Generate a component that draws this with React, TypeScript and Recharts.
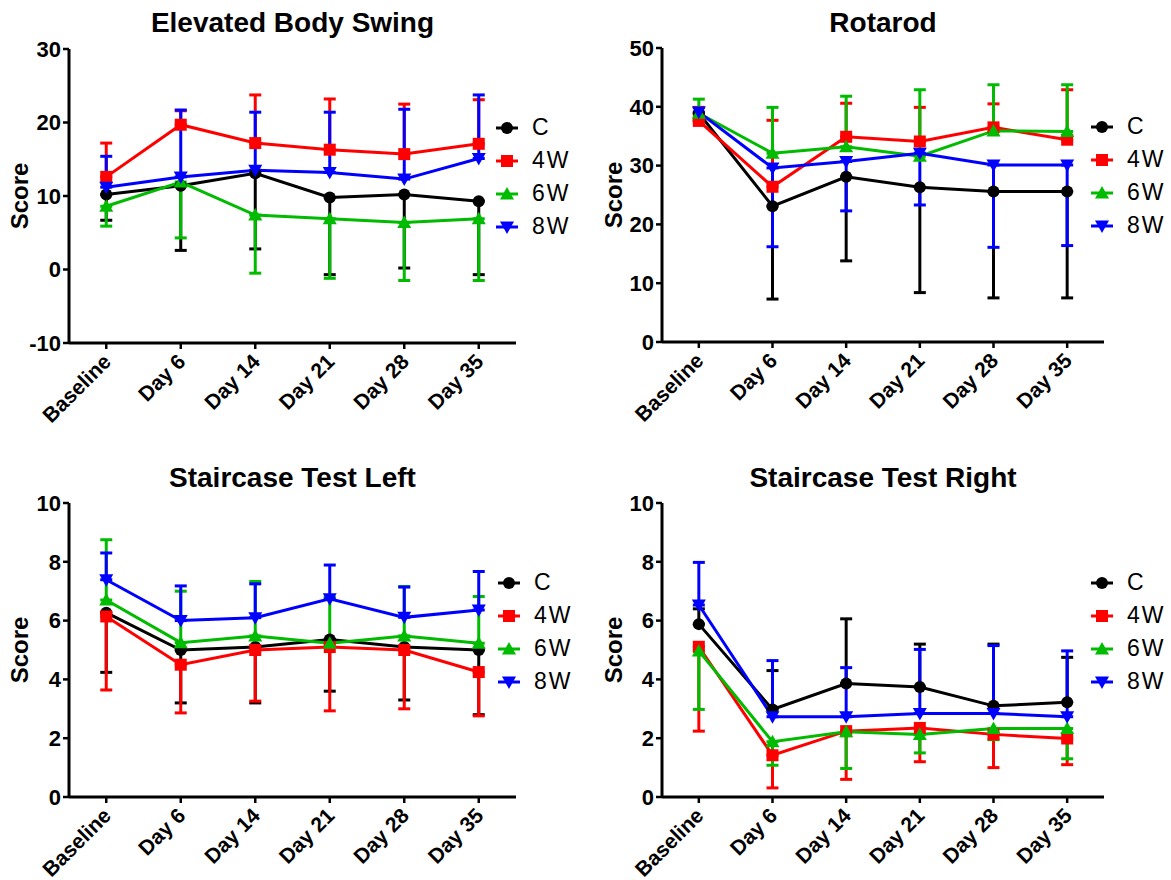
import React from 'react';
import { LineChart, Line, XAxis, YAxis, ErrorBar, Legend } from 'recharts';

const days = ['Baseline', 'Day 6', 'Day 14', 'Day 21', 'Day 28', 'Day 35'];
const groups = ['C', '4W', '6W', '8W'];
const colors = ['#000000', '#ff0000', '#00bb00', '#0000ff'];

// Elevated Body Swing (means + the visible end of each error bar)
const ebsC = [10.2, 11.4, 13.1, 9.8, 10.2, 9.3];
const ebsCLow = [6.7, 2.6, 2.8, -0.7, 0.2, -0.7];
const ebs4W = [12.6, 19.7, 17.2, 16.3, 15.7, 17.1];
const ebs4WHigh = [17.2, 21.6, 23.75, 23.2, 22.5, 23.1];
const ebs6W = [8.6, 11.9, 7.4, 6.9, 6.4, 6.9];
const ebs6WLow = [5.9, 4.3, -0.5, -1.2, -1.5, -1.5];
const ebs8W = [11.2, 12.6, 13.5, 13.2, 12.3, 15.1];
const ebs8WHigh = [15.4, 21.7, 21.4, 21.4, 21.8, 23.75];
const ebsTicks = [-10, 0, 10, 20, 30];

// Rotarod
const rotC = [38.9, 23.1, 28.1, 26.3, 25.6, 25.6];
const rotCLow = [37.5, 7.3, 13.8, 8.4, 7.5, 7.5];
const rot4W = [37.6, 26.4, 34.9, 34.1, 36.5, 34.4];
const rot4WHigh = [39.9, 37.7, 40.6, 39.9, 40.5, 42.9];
const rot6W = [38.9, 32.1, 33.2, 31.6, 35.9, 35.8];
const rot6WHigh = [41.3, 39.9, 41.8, 42.9, 43.75, 43.75];
const rot8W = [39.1, 29.6, 30.7, 32.1, 30.1, 30.1];
const rot8WLow = [37.8, 16.2, 22.3, 23.3, 16.1, 16.4];
const rotTicks = [0, 10, 20, 30, 40, 50];

// Staircase Test Left
const slC = [6.27, 5.0, 5.1, 5.36, 5.1, 5.0];
const slCLow = [4.24, 3.2, 3.2, 3.6, 3.3, 2.8];
const sl4W = [6.14, 4.5, 5.0, 5.1, 5.0, 4.25];
const sl4WLow = [3.64, 2.86, 3.26, 2.93, 3.0, 2.76];
const sl6W = [6.7, 5.25, 5.48, 5.23, 5.48, 5.23];
const sl6WHigh = [8.75, 7.0, 7.33, 6.8, 7.16, 6.82];
const sl8W = [7.39, 6.0, 6.1, 6.74, 6.11, 6.36];
const sl8WHigh = [8.3, 7.18, 7.25, 7.89, 7.14, 7.67];

// Staircase Test Right
const srC = [5.88, 2.98, 3.86, 3.74, 3.1, 3.22];
const srCHigh = [6.4, 4.3, 6.06, 5.2, 5.2, 4.75];
const sr4W = [5.11, 1.42, 2.24, 2.35, 2.13, 1.99];
const sr4WLow = [2.24, 0.31, 0.6, 1.2, 1.0, 1.1];
const sr6W = [4.97, 1.88, 2.22, 2.13, 2.33, 2.33];
const sr6WLow = [2.98, 1.08, 0.97, 1.5, 1.95, 1.3];
const sr8W = [6.53, 2.73, 2.73, 2.84, 2.84, 2.73];
const sr8WHigh = [7.98, 4.64, 4.4, 5.02, 5.15, 4.97];
const staircaseTicks = [0, 2, 4, 6, 8, 10];

const font = '"Liberation Sans", Arial, sans-serif';

type Series = { values: number[]; ends: number[]; dir: 'up' | 'down' };

const buildRows = (series: Series[]) =>
  days.map((day, i) => {
    const row: any = { day };
    series.forEach((s, k) => {
      const g = groups[k];
      row[g] = s.values[i];
      row[g + 'Err'] = s.dir === 'down' ? [s.values[i] - s.ends[i], 0] : [0, s.ends[i] - s.values[i]];
    });
    return row;
  });

const marker = (g: string, cx: number, cy: number, color: string, key?: any) => {
  if (g === 'C') return <circle key={key} cx={cx} cy={cy} r={6} fill={color} />;
  if (g === '4W') return <rect key={key} x={cx - 6} y={cy - 6} width={12} height={12} fill={color} />;
  if (g === '6W')
    return <polygon key={key} points={`${cx},${cy - 7} ${cx + 7},${cy + 5.5} ${cx - 7},${cy + 5.5}`} fill={color} />;
  return <polygon key={key} points={`${cx},${cy + 7} ${cx + 7},${cy - 5.5} ${cx - 7},${cy - 5.5}`} fill={color} />;
};

const LegendBox = () => (
  <div style={{ fontFamily: font, fontSize: 23, color: '#000' }}>
    {groups.map((g, i) => (
      <div key={g} style={{ display: 'flex', alignItems: 'center', height: 33 }}>
        <svg width={26} height={20}>
          <line x1={2} y1={10} x2={24} y2={10} stroke={colors[i]} strokeWidth={3} />
          {marker(g, 13, 10, colors[i])}
        </svg>
        <span style={{ marginLeft: 12, letterSpacing: 2 }}>{g}</span>
      </div>
    ))}
  </div>
);

const XTick = (props: any) => {
  const { x, y, payload } = props;
  return (
    <g transform={`translate(${x + 6},${y + 12})`}>
      <text
        x={0}
        y={0}
        textAnchor="end"
        transform="rotate(-45)"
        fontFamily={font}
        fontWeight="bold"
        fontSize={21}
        fill="#000"
      >
        {payload.value}
      </text>
    </g>
  );
};

type PanelProps = {
  title: string;
  left: number;
  top: number;
  width: number;
  yAxisWidth: number;
  marginTop: number;
  marginRight: number;
  xAxisHeight: number;
  domain: [number, number];
  ticks: number[];
  series: Series[];
  legendLeft: number;
  legendTop: number;
  labelOffset: number;
};

const Panel = (p: PanelProps) => {
  const rows = buildRows(p.series);
  const plotLeft = p.yAxisWidth;
  const plotRight = p.width - p.marginRight;
  const center = (plotLeft + plotRight) / 2;
  const titleTop = p.top === 0 ? 9 : 464 - p.top;
  const pad = (plotRight - plotLeft) / 12;
  return (
    <div style={{ position: 'absolute', left: p.left, top: p.top, width: p.width, height: 440 }}>
      <div
        style={{
          position: 'absolute',
          left: center - 250,
          width: 500,
          top: titleTop,
          textAlign: 'center',
          fontFamily: font,
          fontWeight: 'bold',
          fontSize: 28,
          lineHeight: 1,
          color: '#000',
        }}
      >
        {p.title}
      </div>
      <LineChart
        width={p.width}
        height={440}
        data={rows}
        margin={{ top: p.marginTop, right: p.marginRight, left: 0, bottom: 0 }}
      >
        <XAxis
          dataKey="day"
          height={p.xAxisHeight}
          interval={0}
          padding={{ left: pad, right: pad }}
          axisLine={{ stroke: '#000', strokeWidth: 3 }}
          tickLine={{ stroke: '#000', strokeWidth: 2.5 }}
          tickSize={6}
          tick={<XTick />}
        />
        <YAxis
          width={p.yAxisWidth}
          domain={p.domain}
          ticks={p.ticks}
          interval={0}
          allowDataOverflow
          axisLine={{ stroke: '#000', strokeWidth: 3 }}
          tickLine={{ stroke: '#000', strokeWidth: 2.5 }}
          tickSize={6}
          tick={{ fill: '#000', fontSize: 22, fontWeight: 'bold', fontFamily: font }}
          label={{
            value: 'Score',
            angle: -90,
            position: 'insideLeft',
            offset: p.labelOffset,
            style: { textAnchor: 'middle', fontSize: 24, fontWeight: 'bold', fontFamily: font, fill: '#000' },
          }}
        />
        <Legend
          layout="vertical"
          align="center"
          verticalAlign="middle"
          content={<LegendBox />}
          wrapperStyle={{ left: p.legendLeft, top: p.legendTop, width: 90, height: 140 }}
        />
        {groups.map((g, i) => (
          <Line
            key={g}
            type="linear"
            dataKey={g}
            stroke={colors[i]}
            strokeWidth={3}
            isAnimationActive={false}
            dot={(d: any) => marker(g, d.cx, d.cy, colors[i], d.key ?? `${g}-${d.index}`)}
            activeDot={false}
          >
            <ErrorBar dataKey={g + 'Err'} direction="y" width={6} strokeWidth={3} stroke={colors[i]} />
          </Line>
        ))}
      </LineChart>
    </div>
  );
};

export default function App() {
  return (
    <div style={{ position: 'absolute', left: 0, top: 0, width: 1171, height: 880, background: '#fff' }}>
      <Panel
        title="Elevated Body Swing"
        left={0}
        top={0}
        width={585}
        yAxisWidth={69}
        marginTop={49}
        marginRight={69}
        xAxisHeight={97}
        domain={[-10, 30]}
        ticks={ebsTicks}
        legendLeft={494}
        legendTop={111}
        labelOffset={19}
        series={[
          { values: ebsC, ends: ebsCLow, dir: 'down' },
          { values: ebs4W, ends: ebs4WHigh, dir: 'up' },
          { values: ebs6W, ends: ebs6WLow, dir: 'down' },
          { values: ebs8W, ends: ebs8WHigh, dir: 'up' },
        ]}
      />
      <Panel
        title="Rotarod"
        left={585}
        top={0}
        width={586}
        yAxisWidth={77}
        marginTop={48}
        marginRight={67}
        xAxisHeight={98}
        domain={[0, 50]}
        ticks={rotTicks}
        legendLeft={504}
        legendTop={110}
        labelOffset={28}
        series={[
          { values: rotC, ends: rotCLow, dir: 'down' },
          { values: rot4W, ends: rot4WHigh, dir: 'up' },
          { values: rot6W, ends: rot6WHigh, dir: 'up' },
          { values: rot8W, ends: rot8WLow, dir: 'down' },
        ]}
      />
      <Panel
        title="Staircase Test Left"
        left={0}
        top={440}
        width={585}
        yAxisWidth={69}
        marginTop={63}
        marginRight={69}
        xAxisHeight={83}
        domain={[0, 10]}
        ticks={staircaseTicks}
        legendLeft={496}
        legendTop={126}
        labelOffset={19}
        series={[
          { values: slC, ends: slCLow, dir: 'down' },
          { values: sl4W, ends: sl4WLow, dir: 'down' },
          { values: sl6W, ends: sl6WHigh, dir: 'up' },
          { values: sl8W, ends: sl8WHigh, dir: 'up' },
        ]}
      />
      <Panel
        title="Staircase Test Right"
        left={585}
        top={440}
        width={586}
        yAxisWidth={77}
        marginTop={63}
        marginRight={67}
        xAxisHeight={83}
        domain={[0, 10]}
        ticks={staircaseTicks}
        legendLeft={504}
        legendTop={126}
        labelOffset={28}
        series={[
          { values: srC, ends: srCHigh, dir: 'up' },
          { values: sr4W, ends: sr4WLow, dir: 'down' },
          { values: sr6W, ends: sr6WLow, dir: 'down' },
          { values: sr8W, ends: sr8WHigh, dir: 'up' },
        ]}
      />
    </div>
  );
}
